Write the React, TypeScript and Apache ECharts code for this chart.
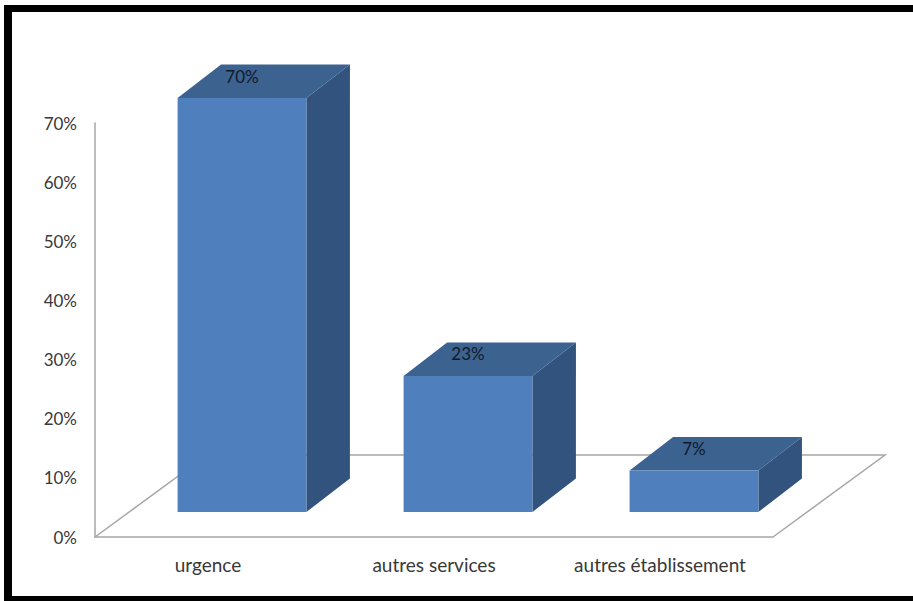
import React, { useEffect, useRef } from "react";
import * as echarts from "echarts";

const categories = ["urgence", "autres services", "autres établissement"];
const values = [70, 23, 7];
const labels = ["70%", "23%", "7%"];

const FONT = "Lato, 'Liberation Sans', sans-serif";

export default function App() {
  const ref = useRef<HTMLDivElement>(null);
  useEffect(() => {
    if (!ref.current) return;
    const chart = echarts.init(ref.current, null, { renderer: "svg" });
    // front face offset relative to the front plane, and bar depth
    const OFF_X = 34, OFF_Y = -25;
    const DEP_X = 43.5, DEP_Y = -33.5;
    const FLOOR_X = 112, FLOOR_Y = -82;
    chart.setOption({
      animation: false,
      backgroundColor: "#ffffff",
      grid: { left: 95, top: 123, width: 678, height: 414 },
      xAxis: {
        type: "category",
        data: categories,
        axisLine: { show: true, lineStyle: { color: "#a6a6a6", width: 1.5 } },
        axisTick: { show: false },
        axisLabel: { color: "#383838", fontFamily: FONT, fontSize: 19, margin: 18 },
        splitLine: { show: false },
      },
      yAxis: {
        type: "value",
        min: 0,
        max: 70,
        interval: 10,
        axisLine: { show: true, lineStyle: { color: "#a6a6a6", width: 1.5 } },
        axisTick: { show: false },
        splitLine: { show: false },
        axisLabel: {
          color: "#383838",
          fontFamily: FONT,
          fontSize: 17,
          margin: 18,
          formatter: (v: number) => v + "%",
        },
      },
      series: [
        {
          type: "custom",
          data: values.map((v, i) => [i, v]),
          renderItem: (params: any, api: any) => {
            const i = api.value(0);
            const v = api.value(1);
            const base = api.coord([i, 0]);
            const top = api.coord([i, v]);
            const w = api.size([1, 0])[0] * 0.57;
            const x0 = base[0] + OFF_X - w / 2;
            const x1 = x0 + w;
            const yb = base[1] + OFF_Y;
            const yt = top[1] + OFF_Y;
            const children: any[] = [];
            if (params.dataIndex === 0) {
              const cs = params.coordSys;
              const fl = cs.x, fr = cs.x + cs.width, fy = cs.y + cs.height;
              children.push({
                type: "polyline",
                shape: {
                  points: [
                    [fl, fy],
                    [fl + FLOOR_X, fy + FLOOR_Y],
                    [fr + FLOOR_X, fy + FLOOR_Y],
                    [fr, fy],
                  ],
                },
                style: { stroke: "#a6a6a6", lineWidth: 1.5, fill: null },
              });
            }
            children.push({
              type: "polygon",
              shape: {
                points: [
                  [x1, yt],
                  [x1 + DEP_X, yt + DEP_Y],
                  [x1 + DEP_X, yb + DEP_Y],
                  [x1, yb],
                ],
              },
              style: { fill: "#31537e" },
            });
            children.push({
              type: "polygon",
              shape: {
                points: [
                  [x0, yt],
                  [x0 + DEP_X, yt + DEP_Y],
                  [x1 + DEP_X, yt + DEP_Y],
                  [x1, yt],
                ],
              },
              style: { fill: "#3c6290" },
            });
            children.push({
              type: "rect",
              shape: { x: x0, y: yt, width: w, height: yb - yt },
              style: { fill: "#4f80bd" },
            });
            children.push({
              type: "text",
              style: {
                x: (x0 + x1) / 2,
                y: yt - 22,
                text: labels[params.dataIndex],
                fill: "#111a28",
                font: "17px " + FONT,
                align: "center",
                verticalAlign: "middle",
              },
            });
            return { type: "group", children };
          },
        },
      ],
      graphic: [
        { type: "rect", shape: { x: 4, y: 5, width: 920, height: 7 }, style: { fill: "#000" } },
        { type: "rect", shape: { x: 4, y: 5, width: 8, height: 600 }, style: { fill: "#000" } },
        { type: "rect", shape: { x: 4, y: 596, width: 920, height: 6 }, style: { fill: "#000" } },
      ],
    });
    return () => chart.dispose();
  }, []);
  return (
    <div
      ref={ref}
      style={{ position: "fixed", left: 0, top: 0, width: 913, height: 601 }}
    />
  );
}
